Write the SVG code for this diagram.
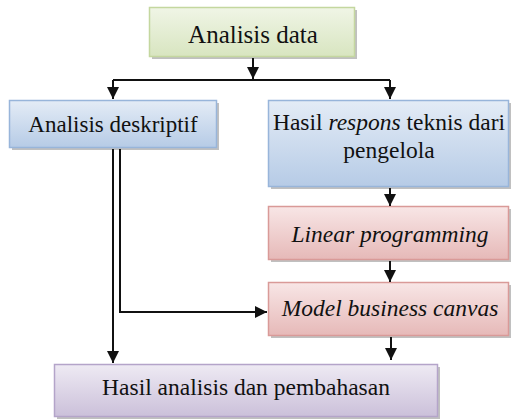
<svg xmlns="http://www.w3.org/2000/svg" width="511" height="420" viewBox="0 0 511 420">
<defs>
<linearGradient id="gG" x1="0" y1="0" x2="0" y2="1"><stop offset="0" stop-color="#f0f5e6"/><stop offset="1" stop-color="#d8e5c0"/></linearGradient>
<linearGradient id="gB" x1="0" y1="0" x2="0" y2="1"><stop offset="0" stop-color="#e4ecf6"/><stop offset="1" stop-color="#b6cbe6"/></linearGradient>
<linearGradient id="gR" x1="0" y1="0" x2="0" y2="1"><stop offset="0" stop-color="#f8e6e6"/><stop offset="1" stop-color="#e6b9b8"/></linearGradient>
<linearGradient id="gP" x1="0" y1="0" x2="0" y2="1"><stop offset="0" stop-color="#eeeaf3"/><stop offset="1" stop-color="#cbc0da"/></linearGradient>
<marker id="ar" markerUnits="userSpaceOnUse" markerWidth="12" markerHeight="12" refX="10" refY="5" orient="auto" viewBox="0 0 10 10"><path d="M0,0L10,5L0,10z" fill="#111"/></marker>
</defs>
<style>
.sh{fill:#8c8c8c;opacity:0.55}
.t{font-family:"Times New Roman","Liberation Serif",serif;fill:#111}
</style>
<g id="n1">
<rect class="sh" x="152" y="10" width="205" height="49"/>
<rect x="149.5" y="7.5" width="205" height="49" fill="url(#gG)" stroke="#c4d79f" stroke-width="1.5"/>
<text class="t" x="253" y="43" font-size="25" text-anchor="middle">Analisis data</text>
</g>
<g id="n2">
<rect class="sh" x="12" y="103" width="207" height="47"/>
<rect x="9.5" y="100.5" width="207" height="47" fill="url(#gB)" stroke="#98b5da" stroke-width="1.5"/>
<text class="t" x="113" y="132" font-size="23" text-anchor="middle">Analisis deskriptif</text>
</g>
<g id="n3">
<rect class="sh" x="271" y="103" width="240" height="86"/>
<rect x="268.5" y="100.5" width="240" height="86" fill="url(#gB)" stroke="#98b5da" stroke-width="1.5"/>
<text class="t" x="389" y="130" font-size="23.5" text-anchor="middle">Hasil <tspan font-style="italic">respons</tspan> teknis dari</text>
<text class="t" x="389" y="158" font-size="23.5" text-anchor="middle">pengelola</text>
</g>
<g id="n4">
<rect class="sh" x="271" y="209" width="240" height="53"/>
<rect x="268.5" y="206.5" width="240" height="53" fill="url(#gR)" stroke="#d99a98" stroke-width="1.5"/>
<text class="t" x="390" y="242" font-size="23.5" font-style="italic" text-anchor="middle">Linear programming</text>
</g>
<g id="n5">
<rect class="sh" x="271" y="285" width="240" height="53"/>
<rect x="268.5" y="282.5" width="240" height="53" fill="url(#gR)" stroke="#d99a98" stroke-width="1.5"/>
<text class="t" x="390" y="316" font-size="23.5" font-style="italic" text-anchor="middle">Model business canvas</text>
</g>
<g id="n6">
<rect class="sh" x="57" y="367" width="383" height="52"/>
<rect x="54.5" y="364.5" width="383" height="52" fill="url(#gP)" stroke="#b4a4c9" stroke-width="1.5"/>
<text class="t" x="246" y="395" font-size="23.5" text-anchor="middle">Hasil analisis dan pembahasan</text>
</g>
<g id="connectors" fill="none" stroke="#111" stroke-width="2">
<path d="M253,58V79" marker-end="url(#ar)"/>
<path d="M113,80H390"/>
<path d="M113,80V99" marker-end="url(#ar)"/>
<path d="M390,80V99" marker-end="url(#ar)"/>
<path d="M390,188V206" marker-end="url(#ar)"/>
<path d="M390,261V282" marker-end="url(#ar)"/>
<path d="M391,337V360" marker-end="url(#ar)"/>
<path d="M113,149V363" marker-end="url(#ar)"/>
<path d="M120,149V312H267" marker-end="url(#ar)"/>
</g>
</svg>
